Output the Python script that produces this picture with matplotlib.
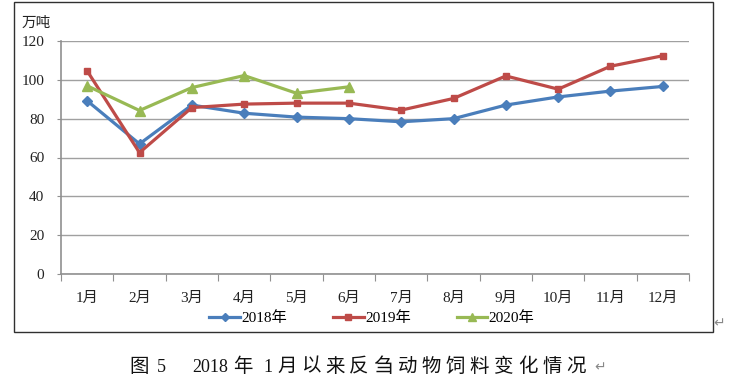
import matplotlib
matplotlib.use("Agg")
import matplotlib.pyplot as plt
from matplotlib.patches import Rectangle
from matplotlib.lines import Line2D

FAM = ['Liberation Serif', 'Noto Sans CJK SC', 'DejaVu Sans']
plt.rcParams['font.family'] = FAM

months = ['1月', '2月', '3月', '4月', '5月', '6月', '7月', '8月', '9月', '10月', '11月', '12月']
y2018 = [89.2, 67.0, 87.0, 82.8, 80.8, 80.0, 78.4, 80.0, 87.0, 91.2, 94.2, 96.6]
y2019 = [104.6, 62.5, 85.7, 87.5, 88.0, 88.0, 84.4, 90.4, 102.0, 95.2, 107.0, 112.4]
y2020 = [96.9, 84.2, 96.0, 102.2, 93.1, 96.4]
series_names = ['2018年', '2019年', '2020年']
yticks = [0, 20, 40, 60, 80, 100, 120]
unit = '万吨'
caption_parts = ['图', '5', '2018', '年', '1', '月以来反刍动物饲料变化情况']

W, H = 744, 382
fig = plt.figure(figsize=(W / 100, H / 100), dpi=100)

# outer frame
fig.patches.append(Rectangle((14 / W, (H - 332) / H), (713 - 14) / W, (332 - 2) / H,
                             transform=fig.transFigure, fill=False, edgecolor='#303030',
                             linewidth=1.0))

ax = fig.add_axes([61 / W, (H - 274) / H, (689 - 61) / W, (274 - 41) / H])
x = list(range(len(months)))
x2020 = x[:len(y2020)]

ax.plot(x, y2018, color='#4A7EBB', lw=2.3, marker='D', ms=5, zorder=3)
ax.plot(x, y2019, color='#BE4B48', lw=2.3, marker='s', ms=5, zorder=3)
ax.plot(x2020, y2020, color='#98B954', lw=2.3, marker='^', ms=7, zorder=3)

ax.set_xlim(-0.5, len(months) - 0.5)
ax.set_ylim(0, 120)
ax.set_yticks(yticks)
ax.set_yticklabels([str(v) for v in yticks], fontsize=11, color='#222222')
ax.yaxis.grid(True, color='#A0A0A0', lw=1.0)
ax.set_axisbelow(True)

ax.set_xticks([i - 0.5 for i in range(len(months) + 1)])
ax.set_xticklabels([])
ax.set_xticks(x, minor=True)
ax.set_xticklabels(months, minor=True, fontsize=11, color='#222222')
ax.tick_params(axis='x', which='major', length=5, color='#909090', direction='out')
ax.tick_params(axis='x', which='minor', length=0, pad=13)
ax.tick_params(axis='y', length=3, color='#909090', pad=9)

for s in ['top', 'right']:
    ax.spines[s].set_visible(False)
for s in ['left', 'bottom']:
    ax.spines[s].set_color('#909090')
    ax.spines[s].set_linewidth(1.2)

fig.text(22 / W, 1 - 23 / H, unit, fontsize=10.5, va='center', ha='left', color='#222222')

handles = [
    Line2D([], [], color='#4A7EBB', lw=2.3, marker='D', ms=4),
    Line2D([], [], color='#BE4B48', lw=2.3, marker='s', ms=4),
    Line2D([], [], color='#98B954', lw=2.3, marker='^', ms=6),
]
fig.legend(handles, series_names, loc='center', bbox_to_anchor=(372 / W, 1 - 318 / H),
           ncol=3, frameon=False, fontsize=11, handlelength=2.0, handletextpad=0.1,
           columnspacing=3.0)

# caption, laid out piece by piece to mimic the document's character grid
cy = 1 - 367 / H
starts = [129, 157, 192, 233, 263, 277]
for part, sx in zip(caption_parts, starts):
    if part.isascii():
        fig.text(sx / W, cy, part, fontsize=13, ha='left', va='center', color='#111111')
    else:
        step = 24.1
        for i, ch in enumerate(part):
            fig.text((sx + i * step) / W, cy, ch, fontsize=14, ha='left', va='center',
                     color='#111111')
fig.text(600 / W, cy, '↵', fontsize=10, ha='center', va='center', color='#888888',
         family=['DejaVu Sans'])
fig.text(719 / W, 1 - 323 / H, '↵', fontsize=10, ha='center', va='center', color='#888888',
         family=['DejaVu Sans'])

fig.savefig('out.png', dpi=100)
